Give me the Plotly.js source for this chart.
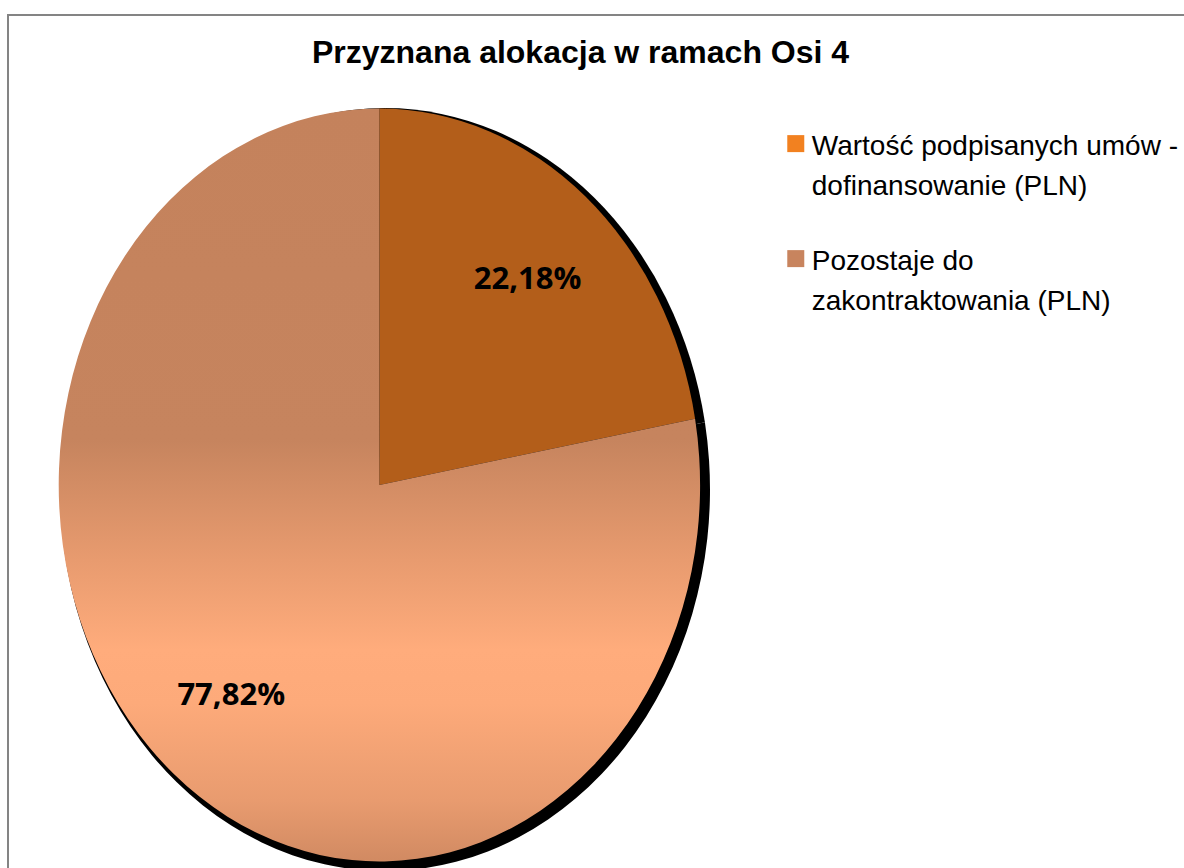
<!DOCTYPE html>
<html><head><meta charset="utf-8">
<script src="https://cdn.plot.ly/plotly-3.0.1.min.js"></script>
<style>
html,body{margin:0;padding:0;background:#fff;overflow:hidden;}
#wrap{position:relative;width:1184px;height:868px;overflow:hidden;}
#chart{width:1184px;height:868px;}
#frame{position:absolute;left:7px;top:14px;width:1400px;height:1000px;border-left:2.5px solid #848484;border-top:2.5px solid #848484;pointer-events:none;}
</style></head><body>
<div id="wrap"><div id="chart"></div><div id="frame"></div></div>
<script>
const chartTitle = 'Przyznana alokacja w ramach Osi 4';
const categories = ['Wartość podpisanych umów -<br>dofinansowanie (PLN)', 'Pozostaje do<br>zakontraktowania (PLN)'];
const shares = [22.18, 77.82];
const sliceColors = ['#B35E1A', '#C4825C'];
const legendColors = ['#F28120', '#C8845E'];
const shadowColors = ['#000000', '#000000'];

const shadowTrace = {
  type: 'pie', labels: categories, values: shares, sort: false,
  direction: 'clockwise', rotation: 0, showlegend: false,
  textinfo: 'none', hoverinfo: 'skip',
  marker: {colors: shadowColors, line: {width: 0}},
  domain: {x: [0.0510, 0.6022], y: [0.0560, 0.8160]}
};
const mainTrace = {
  type: 'pie', labels: categories, values: shares, sort: false,
  direction: 'clockwise', rotation: 0,
  texttemplate: '%{percent:.2%}', textposition: 'inside',
  insidetextorientation: 'horizontal', hoverinfo: 'none',
  textfont: {family: 'Open Sans, Liberation Sans, sans-serif', size: 31, color: '#000', weight: 'bold'},
  marker: {colors: sliceColors, line: {width: 0}},
  domain: {x: [0.0498, 0.5938], y: [0.0612, 0.8212]}
};

const layout = {
  width: 1184, height: 868,
  margin: {l: 0, r: 0, t: 0, b: 0},
  paper_bgcolor: '#fff',
  separators: ', ',
  title: {text: chartTitle, x: 0.4924, xanchor: 'center', xref: 'paper', y: 0.940, yanchor: 'middle', yref: 'container',
          font: {family: 'Liberation Sans, Arial, sans-serif', size: 32, color: '#000', weight: 'bold'}},
  showlegend: true,
  legend: {x: 0.6546, xanchor: 'left', y: 0.863, yanchor: 'top', valign: 'top',
           font: {family: 'Liberation Sans, Arial, sans-serif', size: 28, color: '#000'},
           bgcolor: 'rgba(0,0,0,0)', itemclick: false, itemdoubleclick: false}
};

Plotly.newPlot('chart', [shadowTrace, mainTrace], layout, {staticPlot: true}).then(gd => {
  const ns = 'http://www.w3.org/2000/svg';
  const svg = gd.querySelector('.main-svg');
  const svgRect = svg.getBoundingClientRect();
  const stretch = 378 / 322;
  const labelRadius = 0.72;
  let defs = svg.querySelector('defs');
  if (!defs) { defs = document.createElementNS(ns, 'defs'); svg.insertBefore(defs, svg.firstChild); }
  const grad = document.createElementNS(ns, 'linearGradient');
  grad.setAttribute('id', 'bigSliceGrad');
  grad.setAttribute('x1', '0'); grad.setAttribute('y1', '0');
  grad.setAttribute('x2', '0'); grad.setAttribute('y2', '1');
  [[0, '#C4825C'], [0.44, '#C6845E'], [0.60, '#E89B6F'], [0.72, '#FFAC7C'], [0.79, '#FDAA7A'], [0.92, '#E89B6F'], [1, '#D18A62']].forEach(s => {
    const st = document.createElementNS(ns, 'stop');
    st.setAttribute('offset', s[0]); st.setAttribute('stop-color', s[1]);
    grad.appendChild(st);
  });
  defs.appendChild(grad);

  const total = shares.reduce((a, b) => a + b, 0);
  const traces = gd.querySelectorAll('.pielayer .trace');
  traces.forEach((tr, i) => {
    const cd0 = gd.calcdata[i][0];
    const cx = cd0.cx, cy = cd0.cy, r = cd0.r;
    const tf = `translate(${cx},${cy}) scale(1,${stretch}) translate(${-cx},${-cy})`;
    tr.querySelectorAll('path.surface').forEach(p => p.setAttribute('transform', tf));
    if (i === 1) {
      const slices = tr.querySelectorAll('g.slice');
      slices[1].querySelector('path.surface').style.fill = 'url(#bigSliceGrad)';
      let cum = 0;
      slices.forEach((sl, k) => {
        const mid = (cum + shares[k] / 2) / total * 2 * Math.PI;
        cum += shares[k];
        const t = sl.querySelector('g.slicetext');
        if (!t) return;
        const tx = cx + labelRadius * r * Math.sin(mid);
        const ty = cy - labelRadius * r * stretch * Math.cos(mid);
        const b = t.getBoundingClientRect();
        const px = b.left + b.width / 2 - svgRect.left;
        const py = b.top + b.height / 2 - svgRect.top;
        t.setAttribute('transform', `translate(${tx - px},${ty - py}) ` + (t.getAttribute('transform') || ''));
      });
    }
  });

  // legend styling
  gd.querySelectorAll('.legend [clip-path]').forEach(el => el.removeAttribute('clip-path'));
  const items = gd.querySelectorAll('.legend .traces');
  let y0 = null;
  items.forEach((it, i) => {
    const p = it.querySelector('.legendpoints path');
    if (p) { p.setAttribute('d', 'M12.5,8.5H-4.5V-8.5H12.5Z'); p.style.fill = legendColors[i]; p.style.stroke = 'none'; }
    it.querySelectorAll('tspan.line').forEach(ts => {
      if (ts.getAttribute('dy') && ts.getAttribute('dy') !== '0em') ts.setAttribute('dy', '1.46em');
    });
    const m = /translate\(([-\d.]+),\s*([-\d.]+)\)/.exec(it.getAttribute('transform') || '');
    if (m) {
      if (y0 === null) y0 = parseFloat(m[2]);
      it.setAttribute('transform', `translate(${m[1]},${y0 + i * 115})`);
    }
  });
});
</script>
</body></html>
